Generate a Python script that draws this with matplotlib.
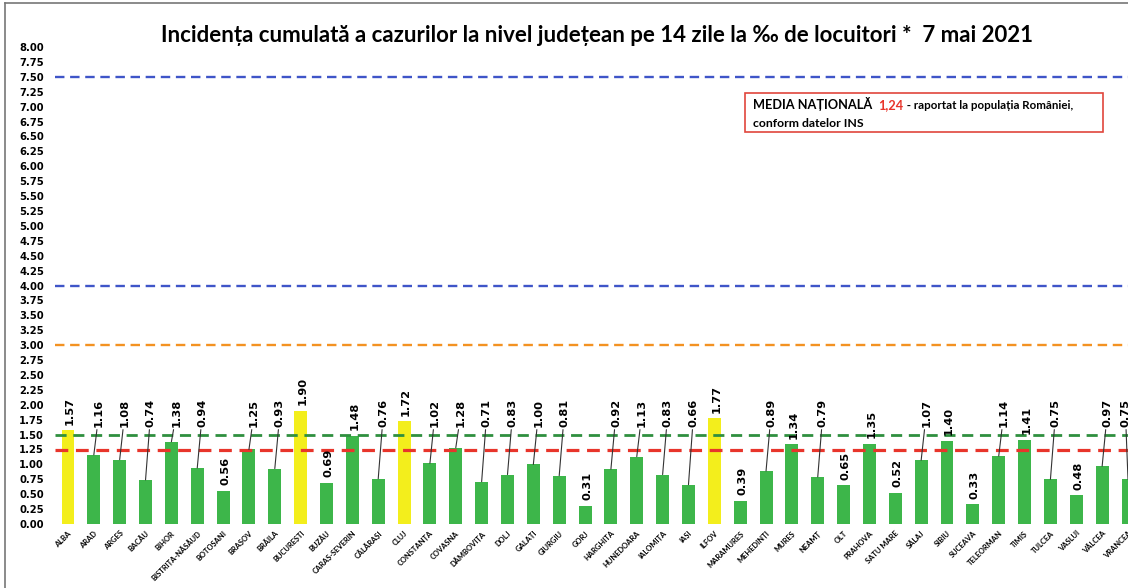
import matplotlib
matplotlib.use("Agg")
import matplotlib.pyplot as plt
from matplotlib.patches import Rectangle
from matplotlib.lines import Line2D

plt.rcParams['font.family'] = ['Lato', 'DejaVu Sans']

counties = ["ALBA", "ARAD", "ARGEȘ", "BACĂU", "BIHOR", "BISTRIȚA-NĂSĂUD", "BOTOȘANI",
            "BRAȘOV", "BRĂILA", "BUCUREȘTI", "BUZĂU", "CARAȘ-SEVERIN", "CĂLĂRAȘI", "CLUJ",
            "CONSTANȚA", "COVASNA", "DÂMBOVIȚA", "DOLJ", "GALAȚI", "GIURGIU", "GORJ",
            "HARGHITA", "HUNEDOARA", "IALOMIȚA", "IAȘI", "ILFOV", "MARAMUREȘ", "MEHEDINȚI",
            "MUREȘ", "NEAMȚ", "OLT", "PRAHOVA", "SATU MARE", "SĂLAJ", "SIBIU", "SUCEAVA",
            "TELEORMAN", "TIMIȘ", "TULCEA", "VASLUI", "VÂLCEA", "VRANCEA"]
values = [1.57, 1.16, 1.08, 0.74, 1.38, 0.94, 0.56, 1.25, 0.93, 1.90, 0.69, 1.48, 0.76, 1.72,
          1.02, 1.28, 0.71, 0.83, 1.00, 0.81, 0.31, 0.92, 1.13, 0.83, 0.66, 1.77, 0.39, 0.89,
          1.34, 0.79, 0.65, 1.35, 0.52, 1.07, 1.40, 0.33, 1.14, 1.41, 0.75, 0.48, 0.97, 0.75]
# labels sitting straight on the bar (the rest are lifted with a leader line)
direct = {"ALBA", "BOTOȘANI", "BUCUREȘTI", "BUZĂU", "CARAȘ-SEVERIN", "CLUJ", "GORJ",
          "ILFOV", "MARAMUREȘ", "OLT", "PRAHOVA", "SATU MARE", "SIBIU", "SUCEAVA",
          "TIMIȘ", "VASLUI", "MUREȘ"}

national_avg = 1.24
thresholds = [(7.5, "#3f55c8"), (4.0, "#3f55c8"), (3.0, "#f39222")]

fig = plt.figure(figsize=(11.28, 5.88), dpi=100)
ax = fig.add_axes([0.0488, 0.1088, 0.9512, 0.8112])

x = list(range(len(counties)))
colors = ["#f3ee1c" if v >= 1.5 else "#3db64a" for v in values]
ax.bar(x, values, width=0.5, color=colors, zorder=2)

for y, c in thresholds:
    ax.axhline(y, color=c, lw=1.7, dashes=(4, 2.4), zorder=1)
ax.axhline(1.5, color="#2f8f3f", lw=2.0, dashes=(4, 2.4), zorder=3)
ax.axhline(national_avg, color="#e8352b", lw=2.3, dashes=(4, 2.4), zorder=3)

vfont = dict(rotation=90, ha="center", va="bottom", fontsize=8.2, fontweight="bold",
             family="DejaVu Sans", zorder=4, annotation_clip=False)
for i, (name, v) in enumerate(zip(counties, values)):
    lab = f"{v:.2f}"
    if name in direct:
        ax.annotate(lab, xy=(i, v), xytext=(1.5, 4), textcoords="offset points", **vfont)
    else:
        dx = -0.1 if i == len(counties) - 1 else 0.2
        ax.annotate(lab, xy=(i, v), xytext=(i + dx, 1.63), textcoords="data",
                    arrowprops=dict(arrowstyle="-", color="#333333", lw=0.8,
                                    shrinkA=0, shrinkB=0), **vfont)

ax.set_xlim(-0.5, 40.93)
ax.set_ylim(0, 8)
ax.set_yticks([k * 0.25 for k in range(33)])
ax.set_yticklabels([f"{k * 0.25:.2f}" for k in range(33)], fontsize=7.2,
                   fontweight="bold", family="DejaVu Sans")
ax.set_xticks(x)
ax.set_xticklabels(counties, rotation=45, ha="right", rotation_mode="anchor",
                   fontsize=5.4, fontweight="bold")
ax.tick_params(axis="both", length=0)
ax.tick_params(axis="y", pad=8)
ax.tick_params(axis="x", pad=4)
for s in ax.spines.values():
    s.set_visible(False)

fig.text(0.529, 0.94, "Incidența cumulată a cazurilor la nivel județean pe 14 zile la ‰ de locuitori *  7 mai 2021",
         ha="center", va="center", fontsize=16, fontweight="bold")

# national average box
box = Rectangle((745 / 1128, 1 - 132 / 588), 358 / 1128, 39 / 588, transform=fig.transFigure,
                fill=False, edgecolor="#e0463c", lw=1.2)
fig.patches.append(box)
y1 = 1 - 109 / 588
t1 = fig.text(753 / 1128, y1, "MEDIA NAȚIONALĂ  ", fontsize=9.2,
              fontweight="bold", va="baseline")
t2 = fig.text(0, y1, "1,24", fontsize=9.2, fontweight="bold", color="#e8352b",
              va="baseline")
fig.canvas.draw()
r = fig.canvas.get_renderer()
t2.set_position((t1.get_window_extent(r).x1 / fig.bbox.width, y1))
fig.text(t2.get_window_extent(r).x1 / fig.bbox.width, y1, " - raportat la populația României,",
         fontsize=8.3, fontweight="bold", va="baseline")
fig.text(753 / 1128, 1 - 127 / 588, "conform datelor INS", fontsize=8.8,
         fontweight="bold", va="baseline")

# screenshot frame
fig.add_artist(Line2D([0.004, 0.004], [0, 0.995], transform=fig.transFigure, color="#777777", lw=1.2))
fig.add_artist(Line2D([0.004, 1], [0.995, 0.995], transform=fig.transFigure, color="#777777", lw=1.2))

fig.savefig("out.png", dpi=100)
